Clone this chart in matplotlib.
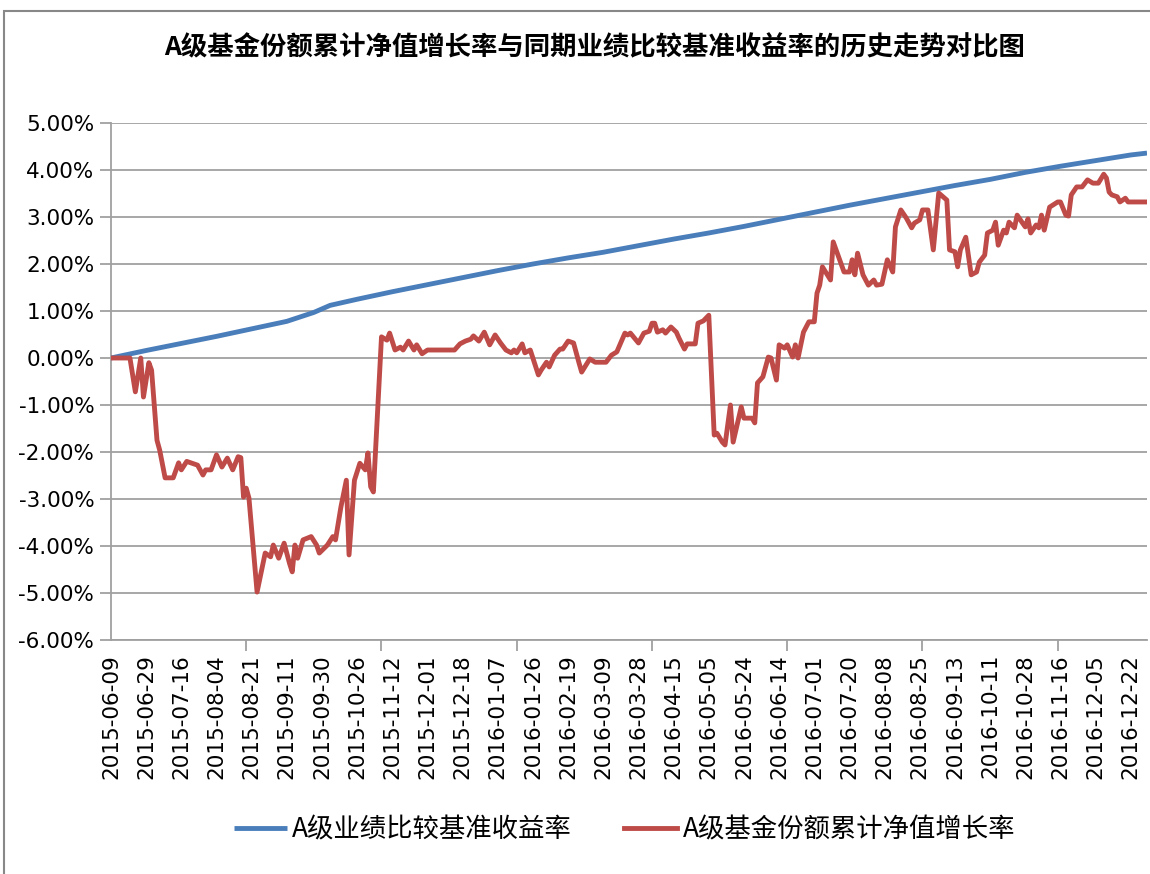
import matplotlib.pyplot as plt
from matplotlib.patches import Rectangle

plt.rcParams['font.family'] = ['DejaVu Sans', 'Noto Sans CJK SC']
CJK = ['Noto Sans CJK SC', 'DejaVu Sans']

title = 'A级基金份额累计净值增长率与同期业绩比较基准收益率的历史走势对比图'
name_bench = 'A级业绩比较基准收益率'
name_fund = 'A级基金份额累计净值增长率'

n_days = 384
date_labels = ['2015-06-09', '2015-06-29', '2015-07-16', '2015-08-04', '2015-08-21',
               '2015-09-11', '2015-09-30', '2015-10-26', '2015-11-12', '2015-12-01',
               '2015-12-18', '2016-01-07', '2016-01-26', '2016-02-19', '2016-03-09',
               '2016-03-28', '2016-04-15', '2016-05-05', '2016-05-24', '2016-06-14',
               '2016-07-01', '2016-07-20', '2016-08-08', '2016-08-25', '2016-09-13',
               '2016-10-11', '2016-10-28', '2016-11-16', '2016-12-05', '2016-12-22']

# benchmark (%), read at the label days and at the last day
bench_day = [0, 13, 26, 39, 52, 65, 75, 81, 91, 104, 117, 130, 143, 156, 169,
             182, 195, 208, 221, 234, 247, 260, 273, 286, 299, 312, 325, 338,
             351, 364, 377, 383]
bench_val = [0.00, 0.16, 0.31, 0.46, 0.62, 0.78, 0.97, 1.12, 1.25, 1.41, 1.56,
             1.71, 1.86, 2.00, 2.13, 2.25, 2.39, 2.53, 2.66, 2.80, 2.95, 3.10,
             3.25, 3.39, 3.53, 3.67, 3.80, 3.95, 4.08, 4.20, 4.32, 4.36]

# fund cumulative NAV growth (%)
fund_day = [0, 7, 9, 11, 12, 14, 15, 17, 18, 20, 23, 25, 26, 28, 32, 34, 35, 37,
            39, 41, 43, 45, 47, 48, 49, 50, 51, 54, 57, 59, 60, 62, 64, 66, 67,
            68, 69, 71, 74, 76, 77, 80, 82, 83, 85, 87, 88, 90, 92, 94, 95, 96,
            97, 100, 102, 103, 105, 107, 108, 110, 112, 113, 115, 117, 127, 129,
            131, 133, 134, 136, 138, 140, 142, 144, 146, 148, 149, 150, 152, 153,
            155, 158, 159, 161, 162, 164, 166, 167, 169, 171, 173, 174, 177, 179,
            183, 185, 187, 190, 191, 192, 195, 197, 199, 200, 201, 202, 204, 205,
            207, 209, 210, 212, 213, 216, 217, 219, 221, 223, 224, 226, 227, 229,
            230, 233, 234, 237, 238, 239, 241, 243, 244, 246, 247, 249, 250, 252,
            253, 254, 256, 258, 260, 261, 262, 263, 266, 267, 271, 273, 274, 275,
            276, 278, 280, 282, 283, 285, 287, 289, 290, 292, 294, 296, 297, 299,
            300, 302, 304, 306, 309, 310, 312, 313, 314, 316, 318, 320, 321, 323,
            324, 326, 327, 328, 330, 331, 332, 334, 335, 337, 338, 339, 340, 342,
            343, 344, 345, 347, 350, 351, 353, 354, 355, 357, 359, 361, 363, 365,
            367, 368, 369, 370, 372, 373, 375, 376, 383]
fund_val = [0.00, 0.00, -0.72, 0.00, -0.83, -0.10, -0.26, -1.75, -1.96, -2.55,
            -2.55, -2.23, -2.38, -2.20, -2.28, -2.49, -2.38, -2.38, -2.06, -2.32,
            -2.13, -2.38, -2.10, -2.12, -2.96, -2.77, -2.98, -4.98, -4.15, -4.23,
            -3.98, -4.26, -3.94, -4.37, -4.55, -3.98, -4.26, -3.87, -3.80, -3.98,
            -4.15, -3.98, -3.80, -3.87, -3.17, -2.60, -4.19, -2.60, -2.24, -2.38,
            -2.02, -2.74, -2.85, 0.45, 0.38, 0.53, 0.17, 0.23, 0.17, 0.36, 0.17,
            0.28, 0.09, 0.17, 0.17, 0.30, 0.36, 0.40, 0.47, 0.36, 0.55, 0.28,
            0.49, 0.32, 0.17, 0.11, 0.17, 0.11, 0.30, 0.11, 0.17, -0.36, -0.26,
            -0.09, -0.19, 0.06, 0.19, 0.19, 0.36, 0.32, -0.10, -0.30, -0.02,
            -0.09, -0.09, 0.06, 0.13, 0.53, 0.49, 0.53, 0.32, 0.53, 0.57, 0.74,
            0.74, 0.55, 0.60, 0.53, 0.66, 0.55, 0.42, 0.19, 0.30, 0.30, 0.74,
            0.79, 0.91, -1.64, -1.60, -1.79, -1.85, -1.00, -1.79, -1.04, -1.28,
            -1.28, -1.38, -0.53, -0.40, 0.02, 0.00, -0.47, 0.28, 0.21, 0.28, 0.02,
            0.28, 0.00, 0.55, 0.77, 0.77, 1.38, 1.55, 1.94, 1.66, 2.47, 1.83,
            1.83, 2.09, 1.77, 2.23, 1.77, 1.55, 1.66, 1.55, 1.57, 2.09, 1.83,
            2.79, 3.15, 2.98, 2.77, 2.87, 2.94, 3.15, 3.15, 2.30, 3.51, 3.36,
            2.30, 2.26, 1.94, 2.30, 2.57, 1.77, 1.83, 2.04, 2.19, 2.66, 2.72,
            2.89, 2.40, 2.72, 2.66, 2.89, 2.77, 3.04, 2.87, 2.79, 2.96, 2.66,
            2.83, 2.77, 3.04, 2.72, 3.21, 3.32, 3.32, 3.04, 3.02, 3.47, 3.64,
            3.64, 3.79, 3.72, 3.72, 3.91, 3.83, 3.53, 3.47, 3.43, 3.32, 3.40,
            3.32, 3.32]

y_ticks = [5, 4, 3, 2, 1, 0, -1, -2, -3, -4, -5, -6]

fig = plt.figure(figsize=(11.5, 8.74), dpi=100)
ax = fig.add_axes([111 / 1150, 1 - 640 / 874, 1036 / 1150, 517 / 874])

grid_col = '#a0a0a0'
for v in y_ticks:
    ax.axhline(v, color=grid_col, lw=1.3, zorder=1)

ax.plot(bench_day, bench_val, color='#4a7ebb', lw=3.5, zorder=3,
        solid_capstyle='butt', label=name_bench)
ax.plot(fund_day, fund_val, color='#be4b48', lw=3.5, zorder=4,
        solid_joinstyle='round', label=name_fund)

ax.set_xlim(0, n_days - 1)
ax.set_ylim(-6, 5)
ax.set_yticks(y_ticks)
ax.set_yticklabels(['%.2f%%' % v for v in y_ticks], fontsize=15.5)

ax.set_xticks(range(0, n_days, 13))
ax.set_xticklabels(date_labels, rotation=90, fontsize=15.5)
ax.set_xticks(range(0, n_days, 50), minor=True)
ax.tick_params(axis='x', which='major', length=0, pad=10)
ax.tick_params(axis='x', which='minor', length=8, color=grid_col, width=1.3)
ax.tick_params(axis='y', length=8, color=grid_col, width=1.3, pad=4)

for s in ['top', 'right']:
    ax.spines[s].set_visible(False)
for s in ['left', 'bottom']:
    ax.spines[s].set_color(grid_col)
    ax.spines[s].set_linewidth(1.3)

fig.text(0.517, 1 - 48 / 874, title, ha='center', va='center',
         fontsize=19, fontweight='bold', family=CJK)

fig.legend(loc='center', bbox_to_anchor=(0.543, 1 - 830 / 874), ncol=2,
           frameon=False, prop={'family': CJK, 'size': 19},
           handlelength=2.0, handletextpad=0.2, columnspacing=2.0)

fig.patches.append(Rectangle((4 / 1150, -0.05), 1.1, 1 - 11 / 874 + 0.05,
                             transform=fig.transFigure, fill=False,
                             edgecolor='#888888', lw=1.5))

fig.savefig('out.png', dpi=100)
